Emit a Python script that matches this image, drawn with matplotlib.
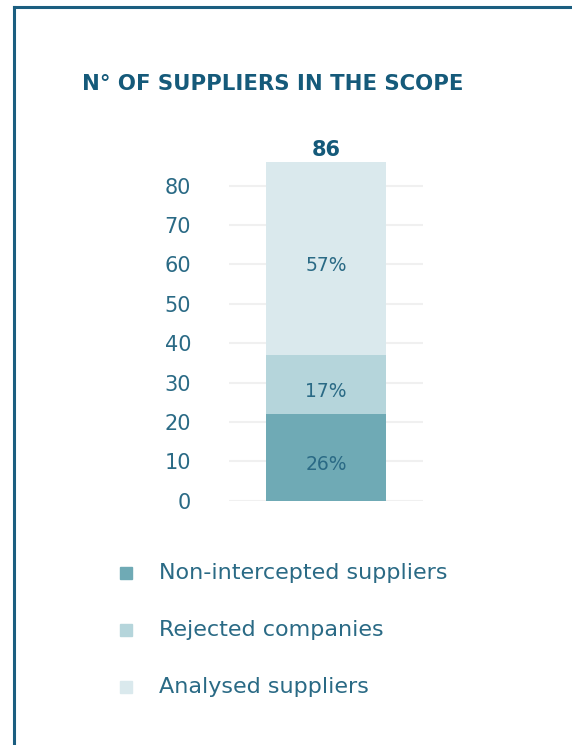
import matplotlib.pyplot as plt
from matplotlib.lines import Line2D

plt.rcParams['font.family'] = ['DejaVu Sans']

# data
categories = ['Non-intercepted suppliers', 'Rejected companies', 'Analysed suppliers']
values = [22, 15, 49]
pct_labels = ['26%', '17%', '57%']
colors = ['#6FAAB5', '#B5D5DB', '#DAE9ED']
yticks = [0, 10, 20, 30, 40, 50, 60, 70, 80]

DARK = '#1B5E80'
TEXT = '#2A6A85'

fig = plt.figure(figsize=(5.72, 7.45), dpi=100)

# frame (left + top border)
fig.add_artist(Line2D([0.024, 0.024], [0, 0.990], color=DARK, lw=2.2))
fig.add_artist(Line2D([0.024, 1.0], [0.990, 0.990], color=DARK, lw=2.2))

fig.text(273 / 572, 1 - 84 / 745, 'N° OF SUPPLIERS IN THE SCOPE',
         ha='center', va='center', fontsize=15.3, fontweight='bold', color='#155A7A')

ax = fig.add_axes([229.3 / 572, 1 - 500.7 / 745, 193.4 / 572, 354.4 / 745])
bottom = 0
for v, c, lab in zip(values, colors, pct_labels):
    ax.bar(0, v, width=0.624, bottom=bottom, color=c, zorder=2)
    ax.text(0, bottom + v / 2 - 1.7, lab, ha='center', va='center',
            fontsize=13.5, color=TEXT, zorder=3)
    bottom += v
ax.text(0, bottom + 0.4, str(sum(values)), ha='center', va='bottom',
        fontsize=15, fontweight='bold', color='#155A7A')

ax.set_xlim(-0.5, 0.5)
ax.set_ylim(0, 90)
ax.set_yticks(yticks)
ax.set_xticks([])
ax.grid(axis='y', color='#F0F0F0', lw=1.5, zorder=0)
ax.set_axisbelow(True)
for s in ax.spines.values():
    s.set_visible(False)
ax.tick_params(axis='y', length=0, pad=27.5, labelsize=15, labelcolor=TEXT)

# legend
leg_y = [573.3, 630, 686.7]
for c, lab, y in zip(colors, categories, leg_y):
    fig.patches.append(plt.Rectangle((120 / 572, 1 - (y + 6) / 745), 12 / 572, 12 / 745,
                                     transform=fig.transFigure, color=c, figure=fig))
    fig.text(159 / 572, 1 - y / 745, lab, ha='left', va='center',
             fontsize=16, color=TEXT)

fig.savefig('out.png', dpi=100)
